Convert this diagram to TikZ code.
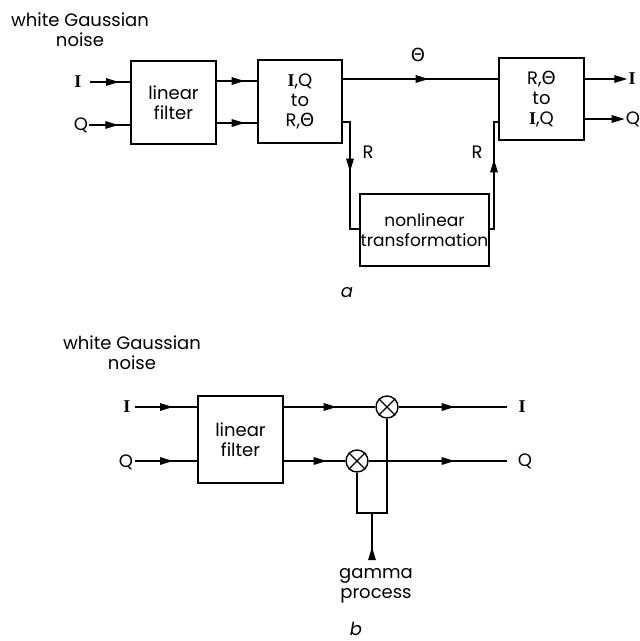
\documentclass[tikz,border=0pt]{standalone}
\usepackage{fontspec}
\setmainfont{Poppins}
\newfontfamily\grk{DejaVu Sans}
\newfontfamily\serI{Liberation Serif}
\usetikzlibrary{arrows.meta,decorations.markings,calc}
\newcommand{\Ii}{{\serI\bfseries I}}
\newcommand{\Th}{{\grk Θ}}
\begin{document}
\begin{tikzpicture}[x=1pt,y=-1pt,
  every node/.style={font=\fontsize{18}{20}\selectfont, inner sep=1pt},
  blk/.style={draw, line width=1.4pt, align=center, inner sep=0pt},
  ln/.style={line width=1.4pt},
  midarr/.style={ln, postaction={decorate}, decoration={markings,
     mark=at position #1 with {\arrow{Triangle[length=13pt,width=7.5pt]}}}},
  endarr/.style={ln, -{Triangle[length=13pt,width=7.5pt]}},
  mult/.style={draw, circle, line width=1.4pt, minimum size=22pt, inner sep=0pt}]
\useasboundingbox (0,0) rectangle (640,641);
% ---------------- (a) ----------------
\node[align=center] (wgnA) at (80,30) {white Gaussian\\noise};
\node (inIa) at (78,82) {\Ii};
\node (inQa) at (81,125) {Q};
\node[blk, minimum width=85pt, minimum height=83pt] (lfA) at (173.5,102.5) {linear\\filter};
\node[blk, minimum width=84pt, minimum height=83pt] (b2) at (300,101.5) {\Ii,Q\\to\\R,\Th};
\node[blk, minimum width=129pt, minimum height=72pt, font=\fontsize{17}{20}\selectfont] (nl) at (424.5,230) {nonlinear\\transformation};
\node[blk, minimum width=85pt, minimum height=82pt] (b3) at (541.5,99) {R,\Th\\to\\\Ii,Q};
\node (th) at (418,55) {\Th};
\node (Rd) at (368,152) {R};
\node (Ru) at (477,152) {R};
\node (outIa) at (632,79) {\Ii};
\node (outQa) at (633,119) {Q};
\node (capA) at (347,293) {\itshape a};
\coordinate (rdA) at (350,122);
\coordinate (rdB) at (350,229);
\coordinate (ruA) at (494,229);
\coordinate (ruB) at (494,122);
\draw[midarr=29pt] (90,82) -- (lfA.west |- 0,82);
\draw[midarr=29pt] (inQa.east |- 0,125) -- (lfA.west |- 0,125);
\draw[midarr=28pt] (lfA.east |- 0,81) -- (b2.west |- 0,81);
\draw[midarr=28pt] (lfA.east |- 0,123) -- (b2.west |- 0,123);
\draw[midarr=86pt] (b2.east |- 0,79) -- (b3.west |- 0,79);
\draw[endarr] (b3.east |- outIa) -- (outIa.west);
\draw[endarr] (b3.east |- outQa) -- (outQa.west);
\draw[midarr=57pt] (b2.east |- rdA) -- (rdA) -- (rdB) -- (nl.west |- rdB);
\draw[midarr=74pt] (nl.east |- ruA) -- (ruA) -- (ruB) -- (b3.west |- ruB);
% ---------------- (b) ----------------
\node[align=center] (wgnB) at (132,353) {white Gaussian\\noise};
\node (inIb) at (127,407) {\Ii};
\node (inQb) at (126,462) {Q};
\node[blk, minimum width=85pt, minimum height=87pt] (lfB) at (240.5,439.5) {linear\\filter};
\node[mult] (m1) at (387,407) {};
\node[mult] (m2) at (357,461) {};
\draw[ln] (m1.north east) -- (m1.south west) (m1.north west) -- (m1.south east);
\draw[ln] (m2.north east) -- (m2.south west) (m2.north west) -- (m2.south east);
\node (outIb) at (522,407) {\Ii};
\node (outQb) at (525,461) {Q};
\node[align=center] (gp) at (376,586) {gamma\\process};
\node (capB) at (356,629) {\itshape b};
\coordinate (jn) at (372,513);
\coordinate (endI) at (507,407);
\coordinate (endQ) at (507,461);
\draw[midarr=38pt] (135,407) -- (lfB.west |- inIb);
\draw[midarr=38pt] (135,461) -- (lfB.west |- 0,461);
\draw[midarr=53pt] (lfB.east |- m1) -- (m1.west);
\draw[midarr=43pt] (lfB.east |- m2) -- (m2.west);
\draw[midarr=56pt] (m1.east) -- (endI);
\draw[midarr=86pt] (m2.east) -- (endQ);
\draw[ln] (m1.south) -- (m1.south |- jn) -- (m2.south |- jn) -- (m2.south);
\draw[midarr=11pt] (372,558) -- (jn);
\end{tikzpicture}
\end{document}
